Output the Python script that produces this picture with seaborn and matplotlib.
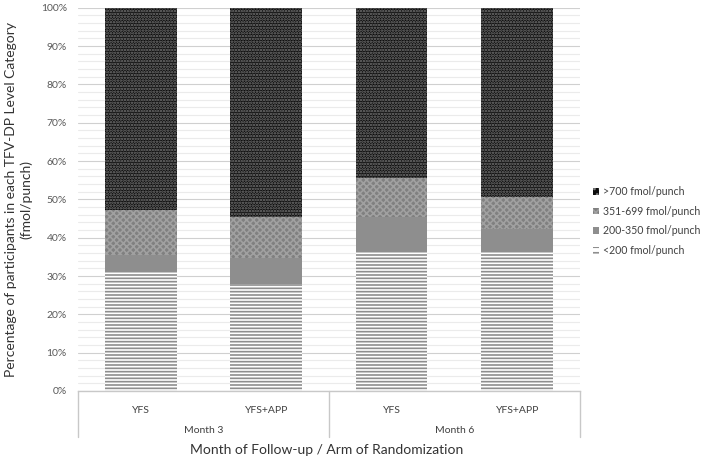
import matplotlib
matplotlib.use("Agg")
import matplotlib.pyplot as plt
import seaborn as sns
import numpy as np
import pandas as pd
from matplotlib.patches import Patch
from matplotlib.ticker import MultipleLocator, PercentFormatter

# ---- data ----
months = ["Month 3", "Month 3", "Month 6", "Month 6"]
arms = ["YFS", "YFS+APP", "YFS", "YFS+APP"]
lt200 = [31.1, 27.9, 36.2, 36.2]
r200_350 = [4.4, 6.7, 9.1, 6.0]
r351_699 = [11.8, 10.9, 10.2, 8.4]
gt700 = [52.7, 54.5, 44.5, 49.4]
series_labels = ["<200 fmol/punch", "200-350 fmol/punch", "351-699 fmol/punch", ">700 fmol/punch"]

sns.set_theme(style="white")
plt.rcParams["font.family"] = ["Lato", "DejaVu Sans"]
plt.rcParams["hatch.linewidth"] = 1.2

cats = [f"{m}|{a}" for m, a in zip(months, arms)]
df = pd.DataFrame({"cat": cats, "s1": lt200, "s2": r200_350, "s3": r351_699, "s4": gt700})
df["c1"] = df["s1"]
df["c2"] = df["c1"] + df["s2"]
df["c3"] = df["c2"] + df["s3"]
df["c4"] = df["c3"] + df["s4"]

fig = plt.figure(figsize=(7.09, 4.61), dpi=100)
ax = fig.add_axes([0.110, 0.152, 0.708, 0.831])

styles = {
    "c4": dict(color="#0d0d0d", edgecolor="#7a7a7a", hatch="......"),
    "c3": dict(color="#808080", edgecolor="#a0a0a0", hatch="xxxxx"),
    "c2": dict(color="#8e8e8e", edgecolor="#8e8e8e", hatch=None),
    "c1": dict(color="#ffffff", edgecolor="#8e8e8e", hatch="-----"),
}
for col in ["c4", "c3", "c2", "c1"]:
    st = styles[col]
    sns.barplot(data=df, x="cat", y=col, ax=ax, color=st["color"], saturation=1,
                width=0.57, edgecolor=st["edgecolor"], hatch=st["hatch"], linewidth=0,
                zorder=3)

ax.set_ylim(0, 100)
ax.set_xlim(-0.5, 3.5)
ax.yaxis.set_major_locator(MultipleLocator(10))
ax.yaxis.set_minor_locator(MultipleLocator(2))
ax.yaxis.set_major_formatter(PercentFormatter(decimals=0))
ax.grid(axis="y", which="major", color="#d0d0d0", linewidth=0.8, zorder=0)
ax.grid(axis="y", which="minor", color="#ebebeb", linewidth=0.8, zorder=0)
ax.set_axisbelow(True)
for s in ["top", "right", "left"]:
    ax.spines[s].set_visible(False)
ax.spines["bottom"].set_color("#c8c8c8")
ax.spines["bottom"].set_linewidth(1.0)
ax.tick_params(axis="y", which="both", length=0, labelsize=7.5, labelcolor="#595959", pad=8)
ax.tick_params(axis="x", length=0, labelsize=7.5, labelcolor="#404040", pad=11)
ax.set_xticks(range(len(arms)))
ax.set_xticklabels(arms)
ax.set_xlabel("")
ax.set_ylabel("Percentage of participants in each TFV-DP Level Category\n(fmol/punch)",
              fontsize=10, color="#333333", labelpad=6, linespacing=1.3)

# group labels and separators
trans = ax.get_xaxis_transform()
groups = []
for i, m in enumerate(months):
    if not groups or groups[-1][0] != m:
        groups.append([m, i, i])
    else:
        groups[-1][2] = i
for m, a, b in groups:
    ax.text((a + b) / 2, -0.102, m, transform=trans, ha="center", va="center",
            fontsize=7.5, color="#404040")
bounds = [-0.5] + [g[2] + 0.5 for g in groups]
for xb in bounds:
    ax.plot([xb, xb], [0, -0.12], transform=trans, color="#c8c8c8", lw=1.0, clip_on=False)

fig.text(0.46, 1 - 450 / 461, "Month of Follow-up / Arm of Randomization", ha="center", va="center",
         fontsize=10, color="#333333")

# legend
handles = [
    Patch(facecolor="#0d0d0d", edgecolor="#7a7a7a", hatch="...", linewidth=0),
    Patch(facecolor="#808080", edgecolor="#a0a0a0", hatch="xxxx", linewidth=0),
    Patch(facecolor="#8e8e8e", linewidth=0),
    Patch(facecolor="#ffffff", edgecolor="#8e8e8e", hatch="---", linewidth=0),
]
labels = [series_labels[3], series_labels[2], series_labels[1], series_labels[0]]
fig.legend(handles, labels, loc="upper left", bbox_to_anchor=(0.826, 0.6125), frameon=False,
           fontsize=7.6, handlelength=0.6, handleheight=0.6, handletextpad=0.3,
           labelspacing=0.82, labelcolor="#404040", borderpad=0.2)

fig.savefig("out.png", dpi=100)
